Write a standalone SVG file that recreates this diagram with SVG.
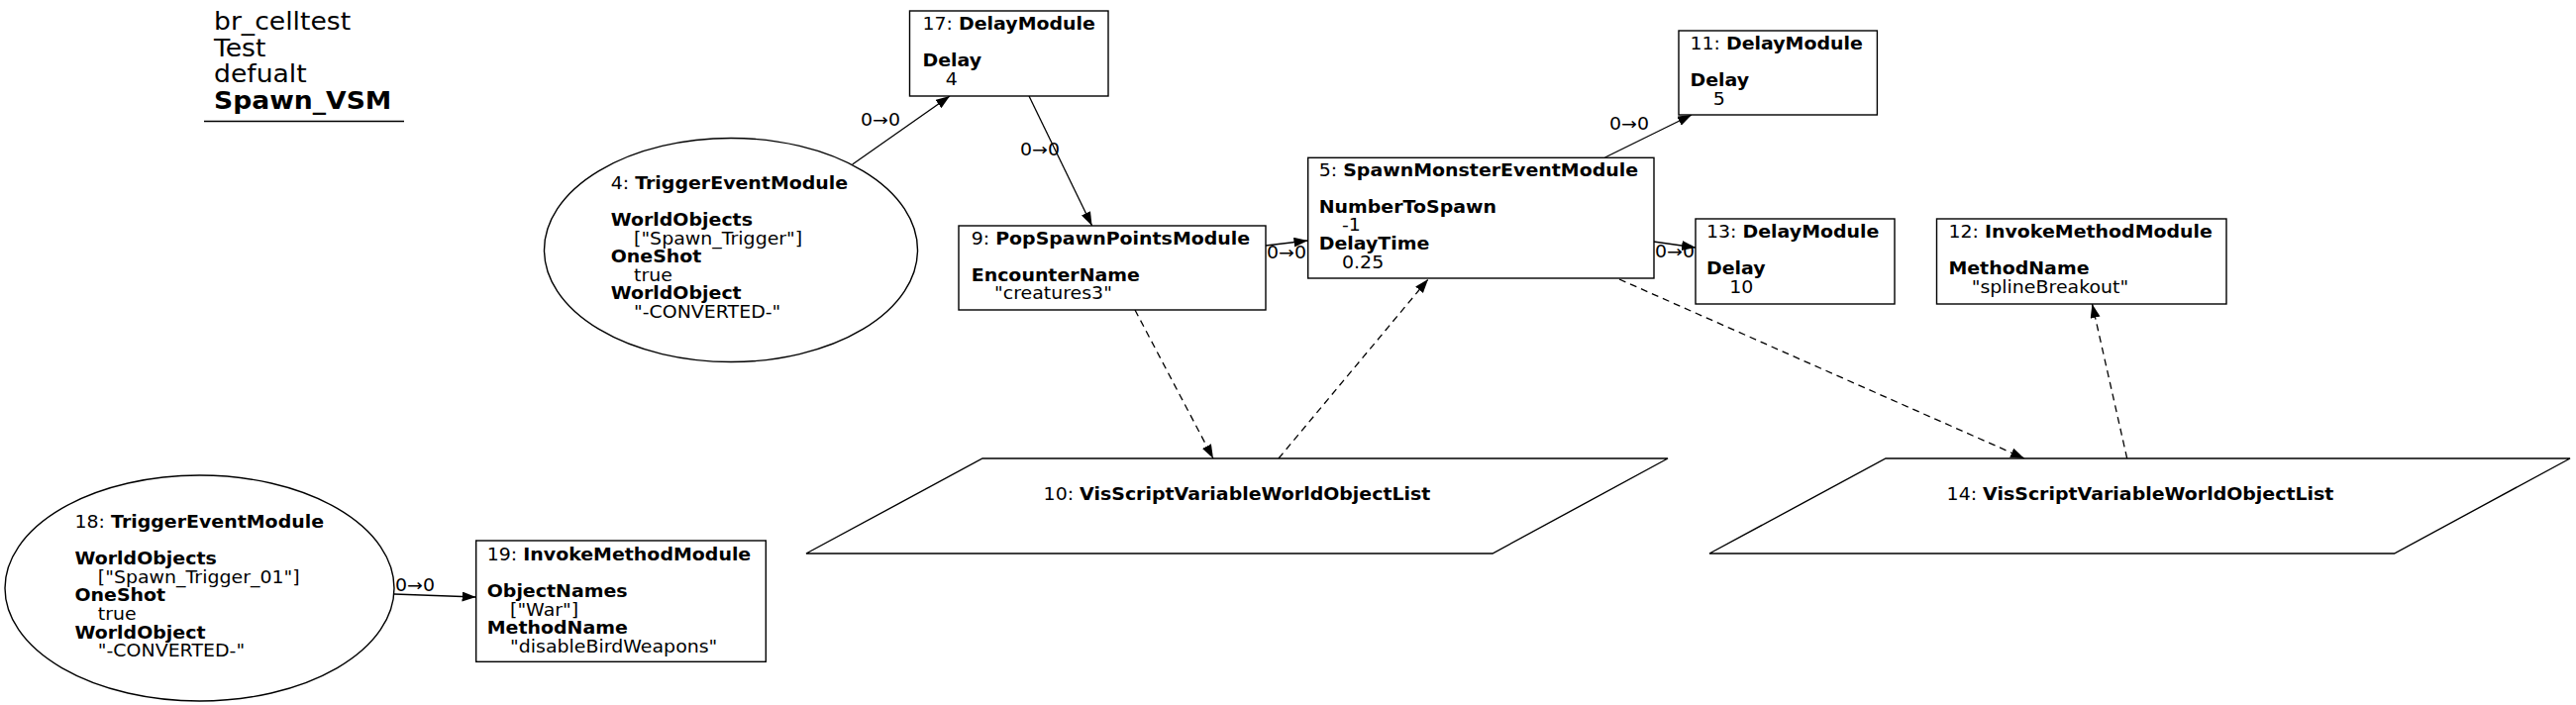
<svg xmlns="http://www.w3.org/2000/svg" width="2601" height="712" viewBox="0 0 2601 712">
<defs>
<style>
.n{fill:#fff;stroke:#000;stroke-width:1.4}
.t{font-family:"DejaVu Sans","Liberation Sans",sans-serif;font-size:17px;fill:#000}
.h{font-family:"DejaVu Sans","Liberation Sans",sans-serif;font-size:24px;fill:#000}
.b{font-weight:bold}
.e{stroke:#000;stroke-width:1.3;fill:none;marker-end:url(#ah)}
.d{stroke-dasharray:7 5}
</style>
<marker id="ah" markerUnits="userSpaceOnUse" markerWidth="16" markerHeight="12" refX="14" refY="5" orient="auto"><path d="M0,0 L14,5 L0,10 z" fill="#000"/></marker>
</defs>
<rect width="2601" height="712" fill="#fff"/>
<g id="title">
<text class="h" transform="translate(216,30) scale(1.11,1)"><tspan x="0" y="0">br_celltest</tspan><tspan x="0" y="27">Test</tspan><tspan x="0" y="53">defualt</tspan><tspan x="0" y="80" class="b">Spawn_VSM</tspan></text>
<line x1="206" y1="122.5" x2="408" y2="122.5" stroke="#000" stroke-width="1.4"/>
</g>
<g id="connectors">
<path class="e" d="M860.7,166 L959,97"/>
<path class="e" d="M1039,97 L1102.6,228"/>
<path class="e" d="M1278,248 L1320.5,243"/>
<path class="e" d="M1620.6,159 L1708,116"/>
<path class="e" d="M1669.6,244 L1712,250"/>
<path class="e" d="M398,600 L480.6,603"/>
<path class="e d" d="M1146,313 L1225,463"/>
<path class="e d" d="M1291,463 L1442,282"/>
<path class="e d" d="M1635,282 L2044,463"/>
<path class="e d" d="M2147.7,463 L2112.5,307"/>
<text class="t" transform="translate(869,127) scale(1.115,1)">0→0</text>
<text class="t" transform="translate(1030,157) scale(1.115,1)">0→0</text>
<text class="t" transform="translate(1279,261) scale(1.115,1)">0→0</text>
<text class="t" transform="translate(1625,131) scale(1.115,1)">0→0</text>
<text class="t" transform="translate(1671,260) scale(1.115,1)">0→0</text>
<text class="t" transform="translate(399,597) scale(1.115,1)">0→0</text>
</g>
<g id="node17">
<rect class="n" x="918.5" y="11" width="200.5" height="86"/>
<text class="t" transform="translate(931.5,30) scale(1.115,1)"><tspan x="0" y="0">17: </tspan><tspan class="b">DelayModule</tspan><tspan x="0" y="37.3" class="b">Delay</tspan><tspan x="20.9" y="55.9">4</tspan></text>
</g>
<g id="node4">
<ellipse class="n" cx="738" cy="252.5" rx="188.5" ry="113"/>
<text class="t" transform="translate(616.7,190.7) scale(1.115,1)"><tspan x="0" y="0">4: </tspan><tspan class="b">TriggerEventModule</tspan><tspan x="0" y="37.3" class="b">WorldObjects</tspan><tspan x="20.9" y="55.9">["Spawn_Trigger"]</tspan><tspan x="0" y="74.5" class="b">OneShot</tspan><tspan x="20.9" y="93.1">true</tspan><tspan x="0" y="111.7" class="b">WorldObject</tspan><tspan x="20.9" y="130.3">"-CONVERTED-"</tspan></text>
</g>
<g id="node9">
<rect class="n" x="968" y="228" width="310" height="85"/>
<text class="t" transform="translate(980.7,246.5) scale(1.115,1)"><tspan x="0" y="0">9: </tspan><tspan class="b">PopSpawnPointsModule</tspan><tspan x="0" y="37.3" class="b">EncounterName</tspan><tspan x="20.9" y="55.9">"creatures3"</tspan></text>
</g>
<g id="node5">
<rect class="n" x="1320.7" y="159.3" width="349.3" height="121.7"/>
<text class="t" transform="translate(1331.7,177.5) scale(1.115,1)"><tspan x="0" y="0">5: </tspan><tspan class="b">SpawnMonsterEventModule</tspan><tspan x="0" y="37.3" class="b">NumberToSpawn</tspan><tspan x="20.9" y="55.9">-1</tspan><tspan x="0" y="74.5" class="b">DelayTime</tspan><tspan x="20.9" y="93.1">0.25</tspan></text>
</g>
<g id="node11">
<rect class="n" x="1695" y="31" width="200.4" height="85"/>
<text class="t" transform="translate(1706.4,50) scale(1.115,1)"><tspan x="0" y="0">11: </tspan><tspan class="b">DelayModule</tspan><tspan x="0" y="37.3" class="b">Delay</tspan><tspan x="20.9" y="55.9">5</tspan></text>
</g>
<g id="node13">
<rect class="n" x="1712" y="221" width="201" height="86"/>
<text class="t" transform="translate(1723,240) scale(1.115,1)"><tspan x="0" y="0">13: </tspan><tspan class="b">DelayModule</tspan><tspan x="0" y="37.3" class="b">Delay</tspan><tspan x="20.9" y="55.9">10</tspan></text>
</g>
<g id="node12">
<rect class="n" x="1955.5" y="221" width="292.5" height="86"/>
<text class="t" transform="translate(1967.4,240) scale(1.115,1)"><tspan x="0" y="0">12: </tspan><tspan class="b">InvokeMethodModule</tspan><tspan x="0" y="37.3" class="b">MethodName</tspan><tspan x="20.9" y="55.9">"splineBreakout"</tspan></text>
</g>
<g id="node18">
<ellipse class="n" cx="201.5" cy="594" rx="196.5" ry="114"/>
<text class="t" transform="translate(75.5,533) scale(1.115,1)"><tspan x="0" y="0">18: </tspan><tspan class="b">TriggerEventModule</tspan><tspan x="0" y="37.3" class="b">WorldObjects</tspan><tspan x="20.9" y="55.9">["Spawn_Trigger_01"]</tspan><tspan x="0" y="74.5" class="b">OneShot</tspan><tspan x="20.9" y="93.1">true</tspan><tspan x="0" y="111.7" class="b">WorldObject</tspan><tspan x="20.9" y="130.3">"-CONVERTED-"</tspan></text>
</g>
<g id="node19">
<rect class="n" x="480.7" y="546" width="292.6" height="122.3"/>
<text class="t" transform="translate(491.7,566) scale(1.115,1)"><tspan x="0" y="0">19: </tspan><tspan class="b">InvokeMethodModule</tspan><tspan x="0" y="37.3" class="b">ObjectNames</tspan><tspan x="20.9" y="55.9">["War"]</tspan><tspan x="0" y="74.5" class="b">MethodName</tspan><tspan x="20.9" y="93.1">"disableBirdWeapons"</tspan></text>
</g>
<g id="node10">
<polygon class="n" points="992,463 1684,463 1507,559 814,559"/>
<text class="t" text-anchor="middle" transform="translate(1249,505) scale(1.115,1)"><tspan>10: </tspan><tspan class="b">VisScriptVariableWorldObjectList</tspan></text>
</g>
<g id="node14">
<polygon class="n" points="1904,463 2595,463 2417.5,559 1726,559"/>
<text class="t" text-anchor="middle" transform="translate(2161,505) scale(1.115,1)"><tspan>14: </tspan><tspan class="b">VisScriptVariableWorldObjectList</tspan></text>
</g>
</svg>
